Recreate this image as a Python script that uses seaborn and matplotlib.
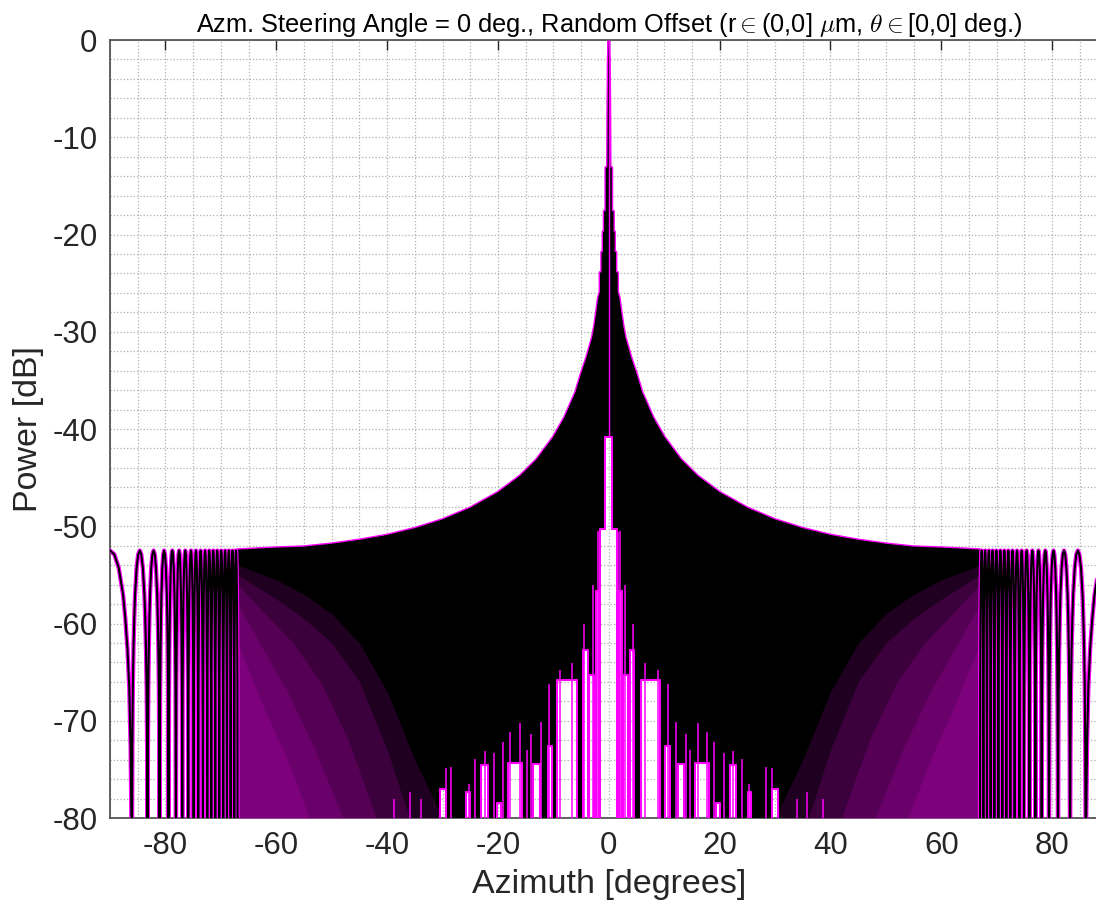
import numpy as np
import pandas as pd
import matplotlib
matplotlib.use("Agg")
import matplotlib.pyplot as plt
from matplotlib.ticker import MultipleLocator
import seaborn as sns

# --- values (pattern is symmetric about 0 deg) ---
# upper envelope of the dense sidelobe region, azimuth >= 0
env_az = [0.0, 0.12, 0.2, 0.25, 0.55, 0.55, 0.85, 0.85, 1.05, 1.05, 1.3, 1.3,
          1.6, 1.6, 1.9, 2.2, 2.6, 3.0, 4.0, 5.0, 6.0, 8.0, 10.0, 13.0, 16.0,
          20.0, 25.0, 30.0, 35.0, 40.0, 45.0, 50.0, 55.0, 60.0, 66.97]
env_db = [0.0, -2.0, -7.5, -13.1, -13.1, -17.6, -17.6, -19.7, -19.7, -21.8, -21.8, -23.9,
          -23.9, -25.9, -26.5, -27.8, -29.4, -30.6, -32.6, -34.3, -36.2, -38.8, -40.8, -43.1, -44.8,
          -46.5, -48.1, -49.3, -50.2, -50.9, -51.4, -51.8, -52.1, -52.2, -52.4]

# white gaps under the dense region near broadside (start, end, top level)
tower_start = [0.0, 0.6, 1.85, 2.6, 3.8, 5.8, 10.2, 12.5, 15.6, 19.4, 21.8, 25.1, 29.4]
tower_end = [0.6, 1.5, 2.3, 3.5, 4.6, 9.3, 11.0, 13.6, 18.1, 20.1, 23.0, 25.7, 30.5]
tower_top = [-40.8, -50.3, -56.7, -65.3, -62.7, -65.8, -72.6, -74.4, -74.3, -78.5, -74.5, -77.3, -77.0]

# isolated magenta spikes inside the dark region
spike_az = [1.6, 2.0, 2.9, 4.4, 6.6, 8.8, 10.7, 12.2, 14.0, 14.7, 16.1, 17.8, 19.0,
            20.8, 22.4, 24.1, 25.3, 28.4, 29.4, 33.9, 35.8, 38.7]
spike_db = [-50.6, -50.5, -56.0, -60.0, -64.1, -64.8, -66.2, -70.1, -71.4, -73.0, -70.2, -71.2, -72.2,
            -73.3, -73.1, -73.9, -76.5, -74.8, -74.9, -78.0, -77.3, -78.0]

# nulls of the resolved lobes near endfire (last lobe peaks at 90 deg)
lobe_nulls = [66.97, 67.58, 68.23, 68.9, 69.57, 70.29, 71.01, 71.73, 72.45, 73.23,
              74.08, 74.91, 75.88, 76.96, 78.1, 79.42, 81.05, 83.22, 86.05, 93.95]
lobe_peak_db = -52.5
# shape of one lobe across its width (fraction) and level below its peak
lobe_frac = [0, 0.012, 0.03, 0.06, 0.1, 0.15, 0.2, 0.3, 0.4, 0.5,
             0.6, 0.7, 0.8, 0.85, 0.9, 0.94, 0.97, 0.988, 1]
lobe_rel_db = [-32, -27.5, -20, -14.1, -10.2, -7.0, -4.6, -1.8, -0.4, 0,
               -0.4, -1.8, -4.6, -7.0, -10.2, -14.1, -20, -27.5, -32]

# magenta haze of the unresolved lobes: top edge of stacked layers
haze1_az = [30, 35, 40, 45, 50, 55, 60, 66.97]
haze1_db = [-80, -74, -67, -62, -59, -57, -55.5, -54]
haze2_az = [36, 40, 45, 50, 55, 60, 66.97]
haze2_db = [-80, -73, -66, -62, -59.5, -57.5, -55]
haze3_az = [42, 47, 52, 57, 62, 66.97]
haze3_db = [-80, -72, -66, -62, -59, -56]
haze4_az = [48, 53, 58, 62, 66.97]
haze4_db = [-80, -73, -67, -63, -58]
haze5_az = [54, 58, 62, 66.97]
haze5_db = [-80, -74, -69, -62]

x_ticks = [-80, -60, -40, -20, 0, 20, 40, 60, 80]
y_ticks = [-80, -70, -60, -50, -40, -30, -20, -10, 0]

MAG = "#ff00ff"
BOTTOM = -85.0


def mirror(az, vals):
    a = [-v for v in az[::-1]] + list(az)
    b = list(vals[::-1]) + list(vals)
    return a, b


sns.set_style("white")
plt.rcParams["font.family"] = ["Liberation Sans", "DejaVu Sans"]
plt.rcParams["axes.unicode_minus"] = False
plt.rcParams["mathtext.fontset"] = "cm"

fig = plt.figure(figsize=(10.96, 9.10), dpi=100)
ax = fig.add_axes([110 / 1096, 92 / 910, 997.6 / 1096, 778 / 910])

# envelope, both sides
env = pd.DataFrame({"az": [-a for a in env_az[:0:-1]] + env_az,
                    "db": env_db[:0:-1] + env_db})

# floor with the white gaps
towers = [(-e, -s, t) for s, e, t in zip(tower_start[::-1], tower_end[::-1], tower_top[::-1])]
towers += list(zip(tower_start, tower_end, tower_top))
edge = env_az[-1]
floor = [(-edge, BOTTOM)]
for i, (a, b, t) in enumerate(towers):
    if i == 0 or abs(towers[i - 1][1] - a) > 1e-9:
        floor.append((a, BOTTOM))
    floor += [(a, t), (b, t)]
    if i == len(towers) - 1 or abs(towers[i + 1][0] - b) > 1e-9:
        floor.append((b, BOTTOM))
floor.append((edge, BOTTOM))
floor = pd.DataFrame(floor, columns=["az", "db"])

# dark region: envelope on top, floor at the bottom
poly_x = list(env["az"]) + list(floor["az"][::-1])
poly_y = list(env["db"]) + list(floor["db"][::-1])
sns.lineplot(data=env, x="az", y="db", sort=False, estimator=None, color=MAG, lw=2.0, ax=ax, zorder=2)
ax.fill(poly_x, poly_y, color="black", lw=0, zorder=3)

haze = [(haze1_az, haze1_db), (haze2_az, haze2_db), (haze3_az, haze3_db),
        (haze4_az, haze4_db), (haze5_az, haze5_db)]
for hx, hy in haze:
    for sgn in (1, -1):
        ax.fill_between([sgn * v for v in hx], -80, hy, color=MAG, alpha=0.13, lw=0, zorder=4)

sns.lineplot(data=floor, x="az", y="db", sort=False, estimator=None, color=MAG, lw=1.5, ax=ax, zorder=5)
sp_x, sp_y = mirror(spike_az, spike_db)
ax.vlines(sp_x, -80, sp_y, color=MAG, lw=1.1, zorder=5)
# main lobe centre line
ax.vlines([0], tower_top[0], env_db[0], color=MAG, lw=1.0, zorder=6)

# resolved lobes near both endfire directions
rows = []
for side in (1, -1):
    for nl, nr in zip(lobe_nulls[:-1], lobe_nulls[1:]):
        for f, r in zip(lobe_frac, lobe_rel_db):
            rows.append((side, side * (nl + f * (nr - nl)), lobe_peak_db + r))
lobes = pd.DataFrame(rows, columns=["side", "az", "db"])
sns.lineplot(data=lobes, x="az", y="db", units="side", estimator=None, sort=False,
             color=MAG, lw=3.1, ax=ax, zorder=6)
sns.lineplot(data=lobes, x="az", y="db", units="side", estimator=None, sort=False,
             color="black", lw=1.5, ax=ax, zorder=7)

ax.set_xlim(-90, 90)
ax.set_ylim(-80, 0)
ax.set_xticks(x_ticks)
ax.set_yticks(y_ticks)
ax.xaxis.set_minor_locator(MultipleLocator(5))
ax.yaxis.set_minor_locator(MultipleLocator(2))
ax.grid(which="both", ls=":", color="#b0b0b0", lw=0.9)
ax.set_axisbelow(True)
ax.tick_params(which="major", direction="in", length=7, width=1.0, top=True, right=True,
               labelsize=22.5, colors="#262626", pad=9)
ax.tick_params(which="minor", length=0)
for s in ax.spines.values():
    s.set_color("#555555")
    s.set_linewidth(1.3)

ax.set_xlabel("Azimuth [degrees]", fontsize=24.5, color="#262626", labelpad=6)
ax.set_ylabel("Power [dB]", fontsize=24.5, color="#262626", labelpad=6)
ax.set_title(r"Azm. Steering Angle = 0 deg., Random Offset (r$\in$(0,0] $\mu$m, $\theta$$\in$[0,0] deg.)",
             fontsize=18.3, color="black", pad=6)

fig.savefig("out.png", dpi=100)
